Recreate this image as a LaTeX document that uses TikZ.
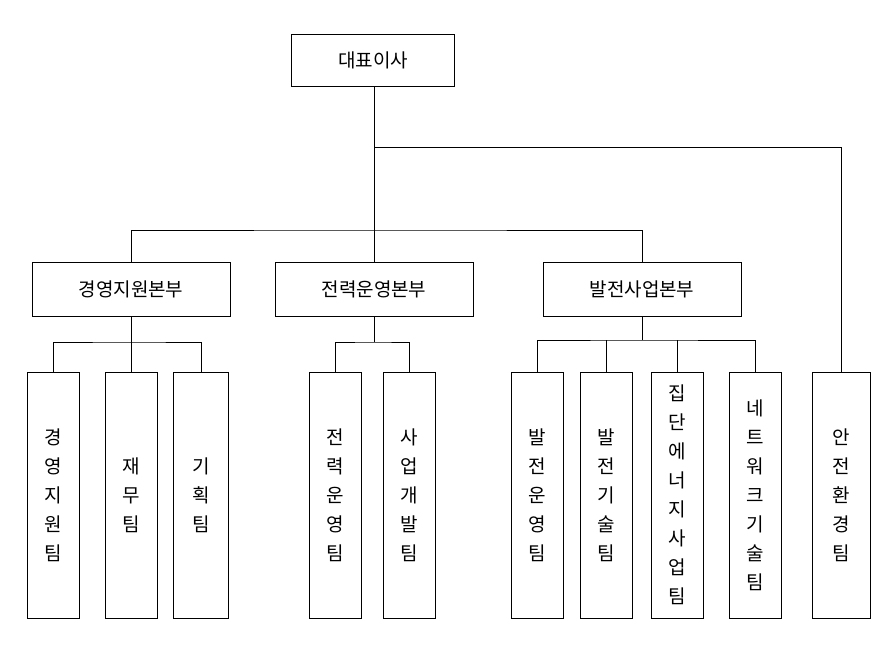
\documentclass[tikz,border=0pt]{standalone}
\usepackage{fontspec}
\setmainfont{Noto Sans CJK KR}
\tikzset{
  HeadBox/.style={draw,thick,minimum width=163pt,minimum height=52pt,
    font=\fontsize{19}{22}\selectfont,inner sep=0pt},
  DeptBox/.style={draw,thick,minimum width=198pt,minimum height=54pt,
    font=\fontsize{19}{22}\selectfont,inner sep=0pt},
  TeamBox/.style={draw,thick,minimum width=52pt,minimum height=246pt,
    align=center,font=\fontsize{19}{29}\selectfont,inner sep=0pt},
  Link/.style={draw,line width=0.6pt}
}
\begin{document}
\begin{tikzpicture}[x=1pt,y=-1pt]
  \useasboundingbox (0,0) rectangle (894,667);
  \node[HeadBox](ceo)at(373,60){대표이사};
  %
  \node[DeptBox](d1)at(131,289){경영지원본부};
  \node[DeptBox](d2)at(374,289){전력운영본부};
  \node[DeptBox](d3)at(642,289){발전사업본부};
  %
  \node[TeamBox](t1)at(53,495){경\\영\\지\\원\\팀};
  \node[TeamBox](t2)at(131,495){재\\무\\팀};
  \node[TeamBox,minimum width=55pt](t3)at(201,495){기\\획\\팀};
  \node[TeamBox](t4)at(335,495){전\\력\\운\\영\\팀};
  \node[TeamBox](t5)at(409,495){사\\업\\개\\발\\팀};
  \node[TeamBox](t6)at(537,495){발\\전\\운\\영\\팀};
  \node[TeamBox](t7)at(606,495){발\\전\\기\\술\\팀};
  \node[TeamBox](t8)at(677,495){집\\단\\에\\너\\지\\사\\업\\팀};
  \node[TeamBox](t9)at(755,495){네\\트\\워\\크\\기\\술\\팀};
  \node[TeamBox,minimum width=58pt](t10)at(841,495){안\\전\\환\\경\\팀};
  %
  \coordinate(j0)at(374,230);
  \coordinate(j1)at(374,147);
  \draw[Link](ceo.south-|j0)--(j0);
  \draw[Link](j1)-|(t10.north);
  \draw[Link](d1.north)|-(j0)-|(d3.north);
  \draw[Link](j0)--(d2.north);
  %
  \coordinate(g1)at(131,342);
  \draw[Link](d1.south)--(t2.north);
  \draw[Link](t1.north)|-(g1)-|(t3.north);
  \coordinate(g2)at(374,342);
  \draw[Link](d2.south)--(g2);
  \draw[Link](t4.north)|-(g2)-|(t5.north);
  \coordinate(g3)at(642,340);
  \draw[Link](d3.south)--(g3);
  \draw[Link](t6.north)|-(g3)-|(t9.north);
  \draw[Link](t7.north)--(t7.north|-g3);
  \draw[Link](t8.north)--(t8.north|-g3);
\end{tikzpicture}
\end{document}
